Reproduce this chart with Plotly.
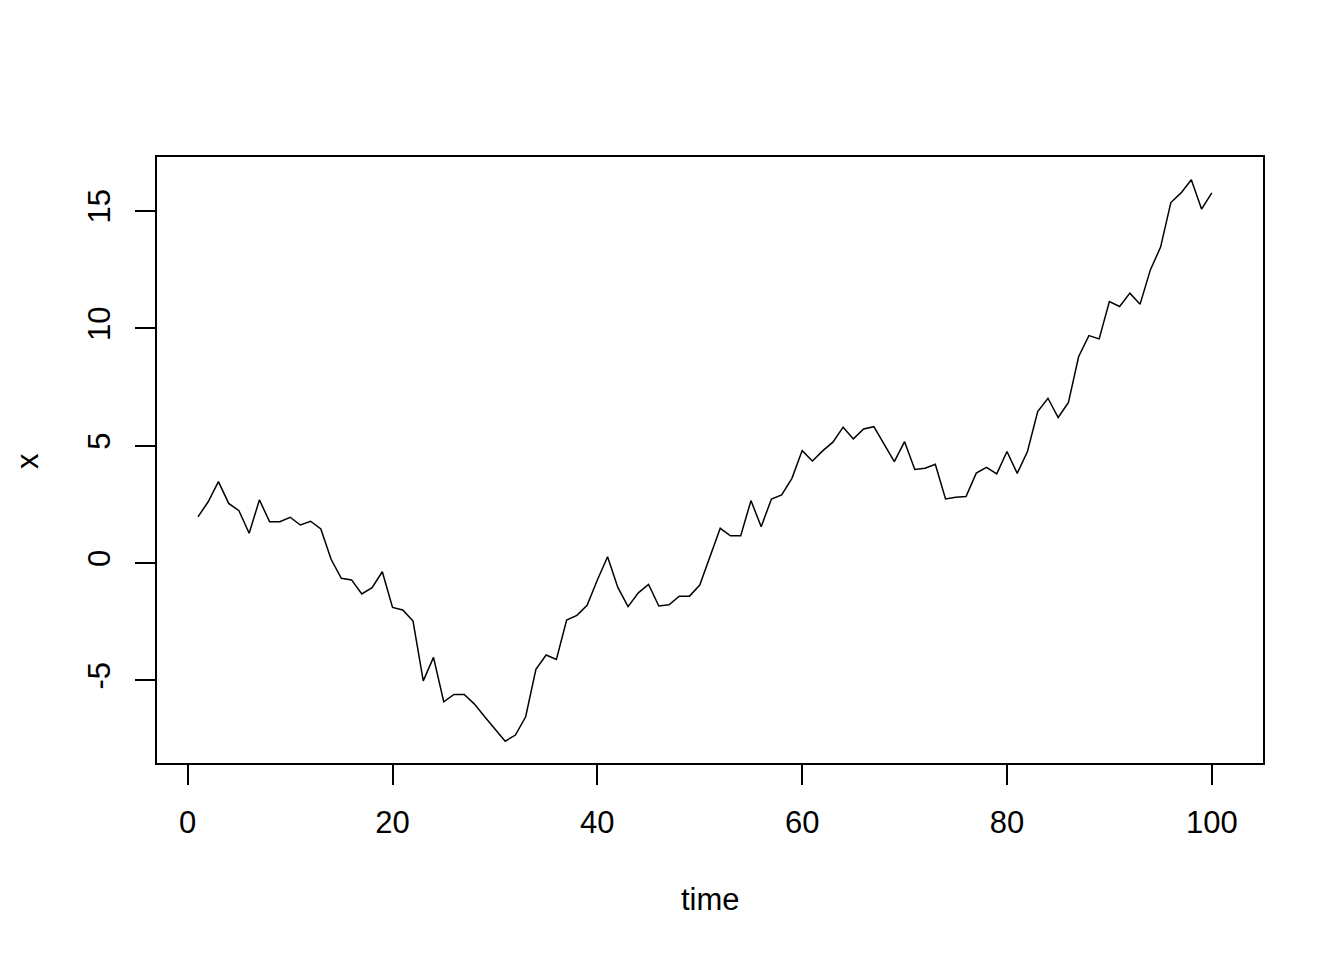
import plotly.graph_objects as go

time = list(range(1, 101))
x = [1.97, 2.61, 3.47, 2.54, 2.23, 1.27, 2.69, 1.76, 1.76, 1.95,
     1.62, 1.78, 1.45, 0.16, -0.65, -0.72, -1.32, -1.05, -0.37, -1.89,
     -2.00, -2.47, -5.02, -4.02, -5.91, -5.60, -5.60, -6.01, -6.55, -7.05,
     -7.59, -7.33, -6.55, -4.53, -3.92, -4.11, -2.43, -2.23, -1.80, -0.72,
     0.27, -1.04, -1.86, -1.27, -0.91, -1.83, -1.78, -1.41, -1.41, -0.94,
     0.27, 1.48, 1.16, 1.16, 2.66, 1.55, 2.73, 2.90, 3.61, 4.79,
     4.35, 4.78, 5.15, 5.79, 5.29, 5.71, 5.81, 5.07, 4.32, 5.17,
     3.99, 4.04, 4.21, 2.73, 2.80, 2.83, 3.83, 4.08, 3.80, 4.75,
     3.82, 4.75, 6.45, 7.02, 6.20, 6.84, 8.80, 9.69, 9.55, 11.14,
     10.93, 11.50, 11.03, 12.49, 13.46, 15.36, 15.77, 16.33, 15.08, 15.77]

x_ticks = [0, 20, 40, 60, 80, 100]
y_ticks = [-5, 0, 5, 10, 15]

font = dict(family="Liberation Sans, Arial, sans-serif", size=31, color="black")

fig = go.Figure()
fig.add_trace(go.Scatter(x=time, y=x, mode="lines",
                         line=dict(color="black", width=1.5),
                         hoverinfo="skip", showlegend=False))

axis_common = dict(showgrid=False, zeroline=False, showline=True,
                   linecolor="black", linewidth=1.5, mirror=True,
                   ticks="outside", ticklen=20, tickwidth=1.5,
                   tickcolor="black", tickfont=font)

fig.update_layout(
    width=1344, height=960,
    margin=dict(l=149, r=89, t=149, b=205),
    paper_bgcolor="white", plot_bgcolor="white",
    xaxis=dict(range=[-3, 105], tickvals=x_ticks,
               ticktext=[str(v) for v in x_ticks], ticklabelstandoff=11,
               **axis_common),
    yaxis=dict(range=[-8.52, 17.30], tickvals=y_ticks,
               ticktext=[str(v) for v in y_ticks], tickangle=-90,
               ticklabelstandoff=13, **axis_common),
    annotations=[
        dict(text="time", x=(710 - 157) / 1106, y=(763 - 900) / 606,
             xref="paper", yref="paper", showarrow=False, font=font,
             xanchor="center", yanchor="middle"),
        dict(text="x", x=(27 - 157) / 1106, y=(763 - 461) / 606,
             xref="paper", yref="paper", showarrow=False, font=font,
             textangle=-90, xanchor="center", yanchor="middle"),
    ],
)

fig.write_html("out.html")
